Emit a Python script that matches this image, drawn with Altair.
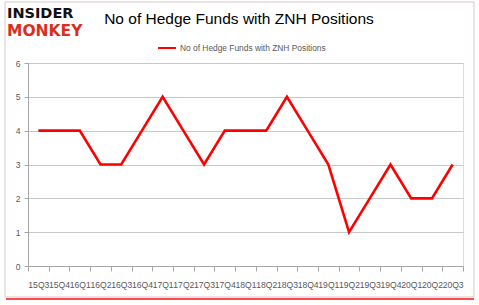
import altair as alt
import pandas as pd

quarters = ["15Q3", "15Q4", "16Q1", "16Q2", "16Q3", "16Q4", "17Q1", "17Q2", "17Q3", "17Q4",
            "18Q1", "18Q2", "18Q3", "18Q4", "19Q1", "19Q2", "19Q3", "19Q4", "20Q1", "20Q2", "20Q3"]
funds = [4, 4, 4, 3, 3, 4, 5, 4, 3, 4, 4, 4, 5, 4, 3, 1, 2, 3, 2, 2, 3]
series_name = "No of Hedge Funds with ZNH Positions"
title_text = "No of Hedge Funds with ZNH Positions"

df = pd.DataFrame({"quarter": quarters, "funds": funds, "series": [series_name] * len(quarters)})
one = pd.DataFrame({"a": [0]})

FONT = "Liberation Sans"
GRAY = "#595959"

line = alt.Chart(df).mark_line(strokeWidth=2.6, color="#ff0000").encode(
    x=alt.X("quarter:N", sort=quarters, bandPosition=0.5,
            scale=alt.Scale(type="band", paddingInner=0, paddingOuter=0),
            axis=alt.Axis(title=None, labelAngle=0, labelOverlap=False, labelPadding=9,
                          tickBand="extent", tickSize=5, labelFontSize=8.6, labelFont=FONT,
                          labelColor=GRAY, domainColor="#a6a6a6", tickColor="#a6a6a6", grid=False)),
    y=alt.Y("funds:Q", scale=alt.Scale(domain=[0, 6], nice=False),
            axis=alt.Axis(title=None, values=[0, 1, 2, 3, 4, 5, 6], tickSize=4, labelPadding=4,
                          labelFontSize=8.6, labelFont=FONT, labelColor=GRAY,
                          domainColor="#a6a6a6", tickColor="#a6a6a6",
                          grid=True, gridColor="#c8c8c8")),
    color=alt.Color("series:N", scale=alt.Scale(range=["#ff0000"]),
                    legend=alt.Legend(title=None, orient="none", legendX=129, legendY=-25,
                                      symbolType="stroke", symbolSize=320, symbolStrokeWidth=2,
                                      labelFontSize=8.4, labelFont=FONT, labelColor=GRAY,
                                      labelOffset=3)),
)

border = alt.Chart(one).mark_rect(fill=None, stroke="#d8c8c8", strokeWidth=1).encode(
    x=alt.value(-23), x2=alt.value(446), y=alt.value(-61), y2=alt.value(234))
shadow = alt.Chart(one).mark_rule(color="#ff2020", strokeWidth=2, opacity=0.8).encode(
    x=alt.value(-22), x2=alt.value(446), y=alt.value(236))

title = alt.Chart(one).mark_text(text=title_text, fontSize=15.5, font=FONT, color="#000000",
                                 align="center", baseline="middle").encode(
    x=alt.value(211), y=alt.value(-44))
logo1 = alt.Chart(one).mark_text(text="INSIDER", fontSize=14.5, font="DejaVu Sans", fontWeight="bold",
                                 color="#111111", align="left", baseline="alphabetic").encode(
    x=alt.value(-21), y=alt.value(-45))
logo2 = alt.Chart(one).mark_text(text="MONKEY", fontSize=15.5, font="DejaVu Sans", fontWeight="bold",
                                 color="#d9301e", align="left", baseline="alphabetic").encode(
    x=alt.value(-21), y=alt.value(-27))

chart = alt.layer(border, shadow, line, title, logo1, logo2).properties(
    width=435, height=203,
    autosize=alt.AutoSizeParams(type="none"),
    padding={"left": 28, "top": 63, "right": 16, "bottom": 39},
).configure_view(stroke=None).configure(background="white")

chart.save("out.html", embed_options={"renderer": "svg", "actions": False})
